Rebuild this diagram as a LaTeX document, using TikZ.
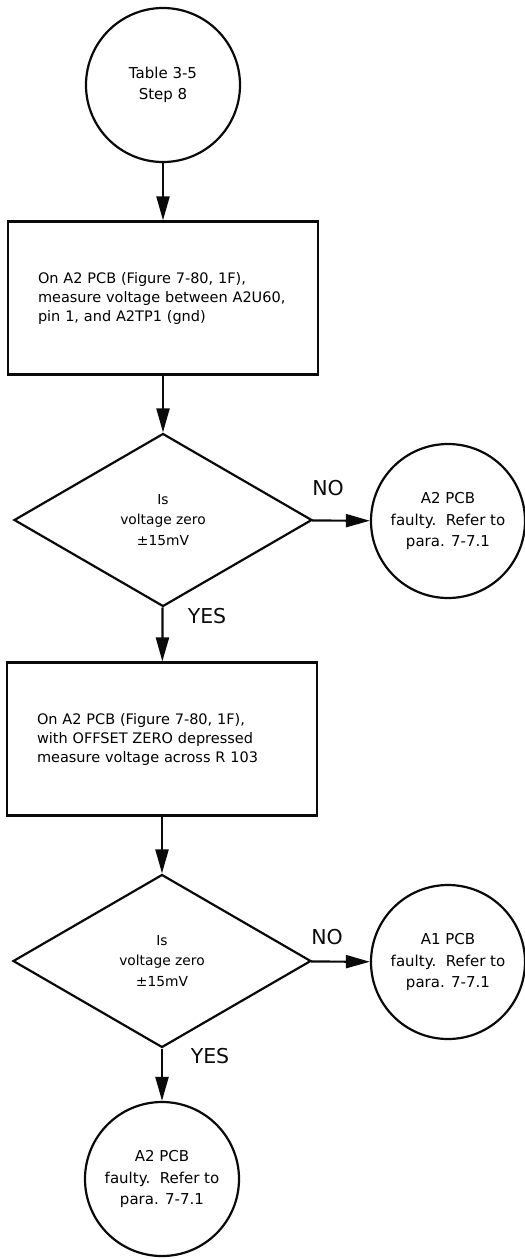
\documentclass[tikz,border=0pt]{standalone}
\usepackage{fontspec}
\setmainfont{DejaVu Sans}
\usepackage{tikz}
\usetikzlibrary{arrows.meta,shapes.geometric,positioning}
\definecolor{InkK}{RGB}{10,10,10}

\begin{document}
\begin{tikzpicture}[x=1pt,y=-1pt,line width=2.2pt,
    flowline/.style={draw=InkK,-{Triangle[length=24pt,width=13pt]}},
    termc/.style={circle,draw=InkK,minimum size=154pt,inner sep=0pt,
      align=center,font=\fontsize{15}{21.5}\selectfont},
    procbox/.style={rectangle,draw=InkK,minimum width=310pt,minimum height=153pt,
      text width=250pt,inner xsep=30pt,align=left,font=\fontsize{14.5}{19}\selectfont},
    decide/.style={diamond,draw=InkK,minimum width=298pt,minimum height=173pt,
      inner sep=0pt,align=center,font=\fontsize{13.8}{20.5}\selectfont},
    answer/.style={InkK,inner sep=0pt,font=\fontsize{20.5}{20.5}\selectfont}]
  \useasboundingbox (0,0) rectangle (525,1259);
  % first check
  \node[termc] (start) at (163,85) {Table 3-5\\Step 8};
  \node[procbox] (box1) at (163,298)
    {On A2 PCB (Figure 7-80, 1F),\\measure voltage between A2U60,\\pin 1, and A2TP1 (gnd)};
  \node[decide] (dia1) at (163,520) {Is\\voltage zero\\±15mV};
  \node[termc] (fail1) at (448,521) {A2 PCB\\faulty.\ \ Refer to\\para. 7-7.1};
  \node[answer] (no1) at (328,488) {NO};
  \node[answer] (yes1) at (207,616) {YES};
  % second check
  \node[procbox] (box2) at (162,739)
    {On A2 PCB (Figure 7-80, 1F),\\with OFFSET ZERO depressed\\measure voltage across R 103};
  \node[decide] (dia2) at (162,961) {Is\\voltage zero\\±15mV};
  \node[termc] (fail2) at (448,962) {A1 PCB\\faulty.\ \ Refer to\\para. 7-7.1};
  \node[answer] (no2) at (327,937) {NO};
  \node[answer] (yes2) at (210,1056) {YES};
  \node[termc] (endc) at (162,1179) {A2 PCB\\faulty.\ \ Refer to\\para. 7-7.1};
  % connectors
  \draw[flowline] (start) -- (box1);
  \draw[flowline] (box1) -- (dia1);
  \draw[flowline] (dia1) -- (fail1);
  \draw[flowline] (dia1) -- (box2);
  \draw[flowline] (box2) -- (dia2);
  \draw[flowline] (dia2) -- (fail2);
  \draw[flowline] (dia2) -- (endc);
\end{tikzpicture}
\end{document}
